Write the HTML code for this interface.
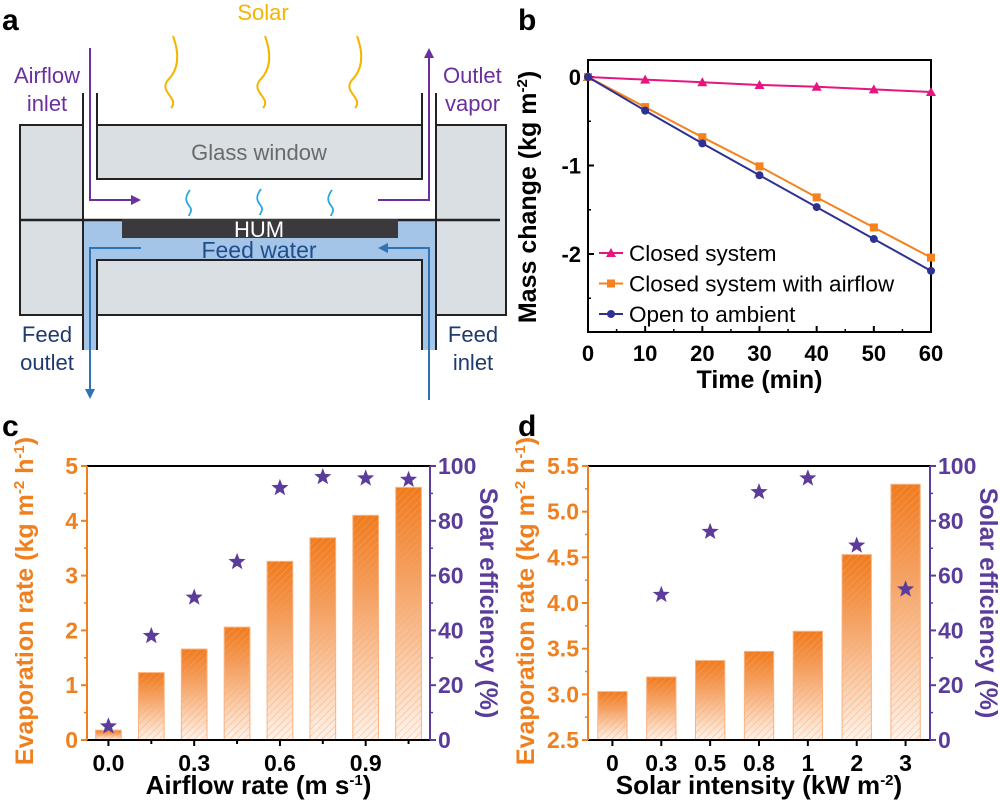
<!DOCTYPE html>
<html><head><meta charset="utf-8"><style>
body{margin:0;background:#fff}
svg{display:block;font-family:"Liberation Sans",Arial,sans-serif}
</style></head><body>
<svg id="fig" width="1000" height="800" viewBox="0 0 1000 800" xmlns="http://www.w3.org/2000/svg">
<defs>
<linearGradient id="barGrad" x1="0" y1="0" x2="0" y2="1">
<stop offset="0" stop-color="#f07a1c"/><stop offset="0.35" stop-color="#f4a060"/><stop offset="1" stop-color="#fff4ec"/>
</linearGradient>
<pattern id="hatch" width="5" height="5" patternUnits="userSpaceOnUse" patternTransform="rotate(45)">
<line x1="0" y1="0" x2="0" y2="5" stroke="#f7a46a" stroke-width="1"/>
</pattern>
</defs>

<!-- Panel a -->
<g>
<text x="2" y="30" font-size="30" font-weight="bold">a</text>
<text x="263" y="20" font-size="22" fill="#f5b400" text-anchor="middle">Solar</text>
<g fill="none" stroke="#f5b400" stroke-width="2">
<path d="M173 36 C180 55,178 70,168 80 C158 92,180 98,171 108"/>
<path d="M265 36 C272 55,270 70,260 80 C250 92,272 98,263 108"/>
<path d="M357 36 C364 55,362 70,352 80 C342 92,364 98,355 108"/>
</g>
<rect x="20" y="125" width="63" height="190" fill="#d9dfe2" stroke="#222" stroke-width="2"/>
<rect x="436" y="125" width="70" height="190" fill="#d9dfe2" stroke="#222" stroke-width="2"/>
<rect x="97" y="125" width="325" height="54" fill="#d9dfe2" stroke="#222" stroke-width="2"/>
<rect x="83" y="220" width="353" height="40" fill="#a4c5e8"/>
<rect x="83" y="260" width="14" height="90" fill="#a4c5e8"/>
<rect x="422" y="260" width="14" height="90" fill="#a4c5e8"/>
<rect x="97" y="260" width="325" height="55" fill="#d9dfe2" stroke="#222" stroke-width="2"/>
<line x1="20" y1="220" x2="500" y2="220" stroke="#222" stroke-width="2.5"/>
<g stroke="#222" stroke-width="2">
<line x1="83" y1="93" x2="83" y2="350"/><line x1="97" y1="93" x2="97" y2="179"/><line x1="97" y1="260" x2="97" y2="350"/>
<line x1="436" y1="93" x2="436" y2="350"/><line x1="422" y1="93" x2="422" y2="179"/><line x1="422" y1="260" x2="422" y2="350"/>
</g>
<rect x="122" y="219" width="276" height="19" fill="#3a393b"/>
<text x="259" y="237" font-size="22" fill="#fff" text-anchor="middle">HUM</text>
<text x="259" y="258" font-size="23" fill="#1f4e8c" text-anchor="middle">Feed water</text>
<text x="259" y="160" font-size="22" fill="#6a6a6a" text-anchor="middle">Glass window</text>
<g fill="none" stroke="#29a8e0" stroke-width="1.8">
<path d="M190 190 C184 198,186 202,190 207 C193 211,189 214,189 216"/>
<path d="M261 189 C255 197,257 201,261 206 C264 210,260 213,260 215"/>
<path d="M332 190 C326 198,328 202,332 207 C335 211,331 214,331 216"/>
</g>
<g stroke="#6b2f9e" stroke-width="2" fill="none">
<polyline points="90,48 90,200 134,200"/>
<polyline points="378,200 429,200 429,56"/>
</g>
<polygon points="141,200 131,195 131,205" fill="#6b2f9e"/>
<polygon points="429,48 424,58 434,58" fill="#6b2f9e"/>
<g stroke="#2e74b5" stroke-width="2" fill="none">
<polyline points="141,248 90,248 90,390"/>
<polyline points="429,400 429,248 385,248"/>
</g>
<polygon points="90,399 85,389 95,389" fill="#2e74b5"/>
<polygon points="378,248 388,243 388,253" fill="#2e74b5"/>
<g font-size="22" fill="#6b2f9e" text-anchor="middle">
<text x="47" y="83">Airflow</text><text x="47" y="111">inlet</text>
</g>
<g font-size="22" fill="#6b2f9e" text-anchor="start">
<text x="443" y="83">Outlet</text><text x="445" y="111">vapor</text>
</g>
<g font-size="22" fill="#1f3a6e" text-anchor="middle">
<text x="47" y="342">Feed</text><text x="47" y="370">outlet</text>
<text x="473" y="342">Feed</text><text x="473" y="370">inlet</text>
</g>
</g>

<g id="pb"></g>
<g id="pc"></g>
<g id="pd"></g>
</svg>
<script>
// Panel b data
const bTimes = [0,10,20,30,40,50,60];
const bClosed = [0,-0.03,-0.06,-0.09,-0.11,-0.14,-0.17];
const bAirflow = [0,-0.34,-0.68,-1.01,-1.36,-1.70,-2.04];
const bOpen = [0,-0.38,-0.75,-1.11,-1.47,-1.83,-2.19];
const bYTicks = [0,-1,-2];
const bXTicks = [0,10,20,30,40,50,60];
// Panel c data
const cCategories = ['0.0','0.15','0.3','0.45','0.6','0.75','0.9','1.05'];
const cRates = [0.18,1.23,1.66,2.06,3.26,3.69,4.10,4.61];
const cEff = [5,38,52,65,92,96,95.5,95];
const cXLabels = ['0.0','','0.3','','0.6','','0.9',''];
const cLeftTicks = [0,1,2,3,4,5];
const cRightTicks = [0,20,40,60,80,100];
// Panel d data
const dCategories = ['0','0.3','0.5','0.8','1','2','3'];
const dRates = [3.03,3.19,3.37,3.47,3.69,4.53,5.30];
const dEff = [null,53,76,90.5,95.5,71,55];
const dLeftTicks = ['2.5','3.0','3.5','4.0','4.5','5.0','5.5'];
const dRightTicks = [0,20,40,60,80,100];

const NS='http://www.w3.org/2000/svg';
function mk(parent,tag,attrs,text){const e=document.createElementNS(NS,tag);for(const k in attrs)e.setAttribute(k,attrs[k]);if(text!==undefined)e.textContent=text;parent.appendChild(e);return e;}
const ORANGE='#f07f1e', PURPLE='#5b3c9b';

// ---------- Panel b ----------
(function(){
const g=document.getElementById('pb');
const x0=588,x1=931,y0=60,y1=332;
const X=v=>x0+(v-0)/60*(x1-x0);
const Y=v=>77+(-v)*88.5;
const t=mk(g,'text',{x:518,y:30,'font-size':30,'font-weight':'bold'},'b');


mk(g,'rect',{x:x0,y:y0,width:x1-x0,height:y1-y0,fill:'none',stroke:'#000','stroke-width':2});
for(const v of bYTicks){mk(g,'line',{x1:x0,x2:x0+6,y1:Y(v),y2:Y(v),stroke:'#000','stroke-width':2});
const l=mk(g,'text',{x:x0-7,y:Y(v)+8,'font-size':22,'font-weight':'bold','text-anchor':'end'},String(v));

}
for(const v of [-0.5,-1.5,-2.5])mk(g,'line',{x1:x0,x2:x0+3,y1:Y(v),y2:Y(v),stroke:'#000','stroke-width':1.5});
for(const v of bXTicks){mk(g,'line',{x1:X(v),x2:X(v),y1:y1,y2:y1-6,stroke:'#000','stroke-width':2});
const l=mk(g,'text',{x:X(v),y:y1+29,'font-size':22,'font-weight':'bold','text-anchor':'middle'},String(v));

}
for(let v=5;v<60;v+=10)mk(g,'line',{x1:X(v),x2:X(v),y1:y1,y2:y1-3,stroke:'#000','stroke-width':1.5});
const xt=mk(g,'text',{x:(x0+x1)/2,y:388,'font-size':25,'font-weight':'bold','text-anchor':'middle'},'Time (min)');


const yt=mk(g,'text',{x:0,y:0,'font-size':25,'font-weight':'bold','text-anchor':'middle',transform:'translate(536,197) rotate(-90)'});


yt.innerHTML='Mass change (kg m<tspan font-size="15" dy="-9">-2</tspan><tspan dy="9">)</tspan>';
const series=[[bClosed,'#e6157f','tri','Closed system'],[bAirflow,'#f5821f','sq','Closed system with airflow'],[bOpen,'#2e3192','circ','Open to ambient']];
series.forEach((s,i)=>{
const pts=bTimes.map((tm,j)=>X(tm)+','+Y(s[0][j])).join(' ');
const pl=mk(g,'polyline',{points:pts,fill:'none',stroke:s[1],'stroke-width':2});


bTimes.forEach((tm,j)=>{marker(g,s[2],X(tm),Y(s[0][j]),s[1]);});
const ly=253+i*30.5;
mk(g,'line',{x1:599,x2:623,y1:ly,y2:ly,stroke:s[1],'stroke-width':2});
marker(g,s[2],611,ly,s[1]);
const lt=mk(g,'text',{x:629,y:ly+8,'font-size':22.5},s[3]);


});
function marker(g,type,x,y,c){
if(type==='tri')mk(g,'polygon',{points:`${x},${y-5} ${x-5},${y+4} ${x+5},${y+4}`,fill:c});
else if(type==='sq')mk(g,'rect',{x:x-4,y:y-4,width:8,height:8,fill:c});
else mk(g,'circle',{cx:x,cy:y,r:4,fill:c});
}
})();

function star(g,cx,cy,r,c){let p=[];for(let i=0;i<10;i++){const a=-Math.PI/2+i*Math.PI/5;const rr=i%2?r*0.42:r;p.push((cx+rr*Math.cos(a)).toFixed(1)+','+(cy+rr*Math.sin(a)).toFixed(1));}
return mk(g,'polygon',{points:p.join(' '),fill:c});}

function barPanel(g,opt){
const {x0,x1,y0,y1,ymin,ymax,rates,eff,cats,xlabels,leftTicks,xTitle,label,labelX}=opt;
const Y=v=>y1-(v-ymin)/(ymax-ymin)*(y1-y0);
const YR=v=>y1-v/100*(y1-y0);
const n=cats.length, step=(x1-x0)/n;
const X=i=>x0+step*(i+0.5);
const pl=mk(g,'text',{x:labelX,y:436,'font-size':30,'font-weight':'bold'},label);


rates.forEach((v,i)=>{
const bw=step*0.6;
const r=mk(g,'rect',{x:X(i)-bw/2,y:Y(v),width:bw,height:y1-Y(v),fill:'url(#barGrad)',stroke:'#f9b382','stroke-width':1});


mk(g,'rect',{x:X(i)-bw/2,y:Y(v),width:bw,height:y1-Y(v),fill:'url(#hatch)',opacity:0.8});
});
mk(g,'line',{x1:x0,x2:x1,y1:y0,y2:y0,stroke:'#000','stroke-width':2});
mk(g,'line',{x1:x0,x2:x1,y1:y1,y2:y1,stroke:'#000','stroke-width':2});
mk(g,'line',{x1:x0,x2:x0,y1:y0,y2:y1,stroke:ORANGE,'stroke-width':2});
mk(g,'line',{x1:x1,x2:x1,y1:y0,y2:y1,stroke:PURPLE,'stroke-width':2});
leftTicks.forEach(tk=>{const v=parseFloat(tk);
mk(g,'line',{x1:x0-6,x2:x0,y1:Y(v),y2:Y(v),stroke:ORANGE,'stroke-width':2});
const l=mk(g,'text',{x:x0-9,y:Y(v)+8,'font-size':23,'font-weight':'bold',fill:ORANGE,'text-anchor':'end'},String(tk));

});
for(let k=0;k<leftTicks.length-1;k++){const v=(parseFloat(leftTicks[k])+parseFloat(leftTicks[k+1]))/2;mk(g,'line',{x1:x0-3,x2:x0,y1:Y(v),y2:Y(v),stroke:ORANGE,'stroke-width':1.5});}
opt.rightTicks.forEach(v=>{
mk(g,'line',{x1:x1,x2:x1+6,y1:YR(v),y2:YR(v),stroke:PURPLE,'stroke-width':2});
const l=mk(g,'text',{x:x1+8,y:YR(v)+8,'font-size':23,'font-weight':'bold',fill:PURPLE},String(v));

});
for(let v=10;v<100;v+=20)mk(g,'line',{x1:x1,x2:x1+3,y1:YR(v),y2:YR(v),stroke:PURPLE,'stroke-width':1.5});
cats.forEach((c,i)=>{
mk(g,'line',{x1:X(i),x2:X(i),y1:y1,y2:y1+(xlabels[i]?6:4),stroke:'#000','stroke-width':2});
if(xlabels[i]){const l=mk(g,'text',{x:X(i),y:y1+31,'font-size':23,'font-weight':'bold','text-anchor':'middle'},xlabels[i]);

}
});
eff.forEach((v,i)=>{if(v===null)return;const s=star(g,X(i),YR(v),9,PURPLE);

});
const xt=mk(g,'text',{x:(x0+x1)/2,y:794,'font-size':26,'font-weight':'bold','text-anchor':'middle'});


xt.innerHTML=xTitle;
const lt=mk(g,'text',{x:0,y:0,'font-size':25,'font-weight':'bold',fill:ORANGE,'text-anchor':'middle',transform:`translate(${x0-54},601) rotate(-90)`});


lt.innerHTML='Evaporation rate (kg m<tspan font-size="15" dy="-9">-2</tspan><tspan dy="9"> h</tspan><tspan font-size="15" dy="-9">-1</tspan><tspan dy="9">)</tspan>';
const rt=mk(g,'text',{x:0,y:0,'font-size':25,'font-weight':'bold',fill:PURPLE,'text-anchor':'middle',transform:`translate(${x1+50},603) rotate(90)`},'Solar efficiency (%)');


}
barPanel(document.getElementById('pc'),{x0:87,x1:430,y0:466,y1:740,ymin:0,ymax:5,rates:cRates,eff:cEff,cats:cCategories,xlabels:cXLabels,leftTicks:cLeftTicks,rightTicks:cRightTicks,
xTitle:'Airflow rate (m s<tspan font-size="15" dy="-9">-1</tspan><tspan dy="9">)</tspan>',label:'c',labelX:2});
barPanel(document.getElementById('pd'),{x0:588,x1:930,y0:466,y1:740,ymin:2.5,ymax:5.5,rates:dRates,eff:dEff,cats:dCategories,xlabels:dCategories,leftTicks:dLeftTicks,rightTicks:dRightTicks,
xTitle:'Solar intensity (kW m<tspan font-size="15" dy="-9">-2</tspan><tspan dy="9">)</tspan>',label:'d',labelX:518});
</script>
</body></html>
